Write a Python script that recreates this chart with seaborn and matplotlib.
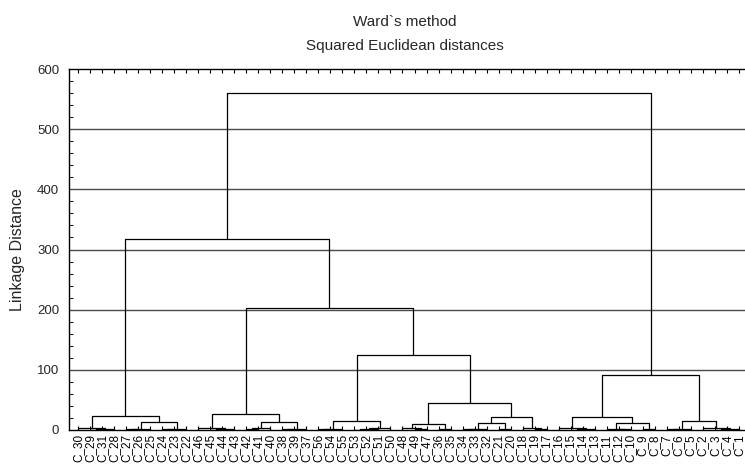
import numpy as np
import pandas as pd
import seaborn as sns
import matplotlib
matplotlib.use("Agg")
import matplotlib.pyplot as plt
from matplotlib.ticker import MultipleLocator

# Leaf order along the x axis (left to right)
leaf_labels = [
    "C_30", "C_29", "C_31", "C_28", "C_27", "C_26", "C_25", "C_24", "C_23", "C_22",
    "C_46", "C_45", "C_44", "C_43", "C_42", "C_41", "C_40", "C_38", "C_39", "C_37",
    "C_56", "C_54", "C_55", "C_53", "C_52", "C_51", "C_50", "C_48", "C_49", "C_47",
    "C_36", "C_35", "C_34", "C_33", "C_32", "C_21", "C_20", "C_18", "C_19", "C_17",
    "C_16", "C_15", "C_14", "C_13", "C_11", "C_12", "C_10", "C_9", "C_8", "C_7",
    "C_6", "C_5", "C_2", "C_3", "C_4", "C_1",
]

# Linkage: ids 0..55 are leaves (by display position); merge k gets id 56 + k
link_left = [
    1, 56, 0, 4, 59, 7, 61, 60, 58,
    11, 65, 10, 14, 68, 17, 70, 69, 67,
    20, 74, 23, 76, 77, 75,
    28, 27, 30, 81,
    32, 84, 35, 85, 38, 37, 87, 83, 79, 73, 64,
    41, 95, 40, 45, 44, 47, 99, 97,
    49, 103, 53, 105, 52, 104, 102, 94,
]
link_right = [
    2, 3, 57, 5, 6, 8, 9, 62, 63,
    12, 13, 66, 15, 16, 18, 19, 71, 72,
    21, 22, 24, 25, 26, 78,
    29, 80, 31, 82,
    33, 34, 36, 86, 39, 88, 89, 90, 91, 92, 93,
    42, 43, 96, 46, 98, 48, 100, 101,
    50, 51, 54, 55, 106, 107, 108, 109,
]
link_height = [
    0.8, 1.5, 2.8, 1.0, 2.2, 0.9, 2.0, 14.0, 23.3,
    0.7, 1.6, 2.9, 1.1, 2.5, 0.9, 2.4, 13.3, 26.7,
    1.0, 2.3, 0.8, 1.7, 3.0, 14.5,
    1.2, 2.6, 2.0, 9.5,
    0.9, 2.4, 2.1, 11.0, 1.0, 2.6, 22.0, 44.5, 125.0, 203.0, 317.0,
    0.8, 1.9, 3.0, 1.0, 2.3, 2.0, 11.0, 21.0,
    1.1, 2.4, 0.7, 1.8, 3.0, 14.5, 91.7, 560.0,
]

y_ticks = [0, 100, 200, 300, 400, 500, 600]

# Build the U-shaped links of the dendrogram
n_leaves = len(leaf_labels)
node_x = {i: float(i) for i in range(n_leaves)}
node_h = {i: 0.0 for i in range(n_leaves)}
rows = []
for k, (a, b, h) in enumerate(zip(link_left, link_right, link_height)):
    xa, xb = node_x[a], node_x[b]
    pts = [(xa, node_h[a]), (xa, h), (xb, h), (xb, node_h[b])]
    for order, (px, py) in enumerate(pts):
        rows.append({"link": k, "order": order, "x": px, "y": py})
    node_x[n_leaves + k] = (xa + xb) / 2.0
    node_h[n_leaves + k] = h
links = pd.DataFrame(rows)

sns.set_style("white")
plt.rcParams["font.family"] = ["Liberation Sans", "DejaVu Sans"]

fig = plt.figure(figsize=(7.45, 4.66), dpi=100)
ax = fig.add_axes([69 / 745, 36 / 466, 1 - 69 / 745, 361 / 466])

for yv in y_ticks[1:-1]:
    ax.axhline(yv, color="#4a4a4a", linewidth=1.0, zorder=1)

sns.lineplot(data=links, x="x", y="y", units="link", estimator=None, sort=False,
             color="black", linewidth=0.9, ax=ax, zorder=3, legend=False)

ax.set_xlim(-0.75, 55.5)
ax.set_ylim(0, 600)
ax.set_xticks(range(n_leaves))
ax.set_xticklabels(leaf_labels, rotation=90, fontsize=8.5, va="top", ha="center")
ax.set_yticks(y_ticks)
ax.set_yticklabels([str(v) for v in y_ticks], fontsize=9.5)
ax.yaxis.set_minor_locator(MultipleLocator(20))
ax.tick_params(axis="x", which="major", direction="in", length=3, width=0.8,
               top=True, bottom=True, pad=3, colors="black")
ax.tick_params(axis="y", which="major", length=0, pad=7)
ax.tick_params(axis="y", which="minor", direction="in", length=3, width=0.8, left=True)
ax.set_xlabel("")
ax.set_ylabel("Linkage Distance", fontsize=11.5, labelpad=9)

for side in ("left", "top", "bottom"):
    ax.spines[side].set_visible(True)
    ax.spines[side].set_color("black")
    ax.spines[side].set_linewidth(1.0)
ax.spines["right"].set_visible(False)

fig.text(0.543, 1 - 22 / 466, "Ward`s method", ha="center", va="center", fontsize=11)
fig.text(0.543, 1 - 46 / 466, "Squared Euclidean distances", ha="center", va="center",
         fontsize=11)

fig.savefig("out.png", dpi=100)
